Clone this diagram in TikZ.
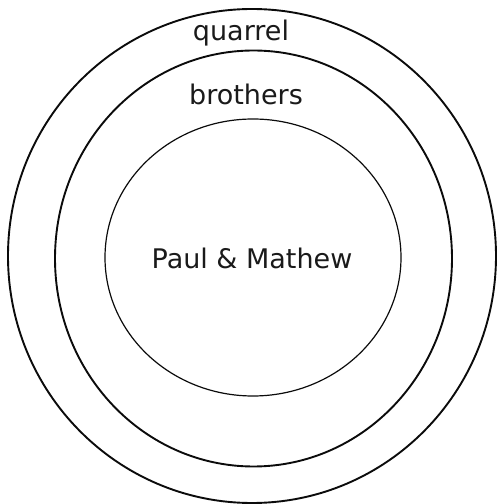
\documentclass[tikz,border=0pt]{standalone}
\usepackage{fontspec}
\setmainfont{DejaVu Sans}
\usetikzlibrary{positioning}
\definecolor{cInk}{HTML}{0B0B0B}
\definecolor{cInk2}{HTML}{1A1A1A}
\tikzset{
  ring/.style={draw=cInk, line width=1.9pt},
  lab/.style={font=\fontsize{27}{30}\selectfont, text=cInk2, anchor=base, inner sep=0pt},
}
\begin{document}
\begin{tikzpicture}[x=1pt, y=1pt,
  core/.style={ring, line width=1.2pt},
]
\useasboundingbox (0,0) rectangle (497,504);
% ============================================ the three nested rings
\coordinate (cq) at (252,248);
\coordinate (cb) at (253.5,245.5);
\coordinate (cp) at (253,246.5);
\draw[ring] (cq) ellipse [x radius=244, y radius=247];
\draw[ring] (cb) ellipse [x radius=198.5, y radius=208];
\draw[core] (cp) ellipse [x radius=148, y radius=138.5];
% ================================================================ labels
\node[lab] (quarrel) at (241,463) {quarrel};
\node[lab] (brothers) at (246,399) {brothers};
\node[lab] (pm) at (252,235) {Paul \& Mathew};
\end{tikzpicture}
\end{document}
